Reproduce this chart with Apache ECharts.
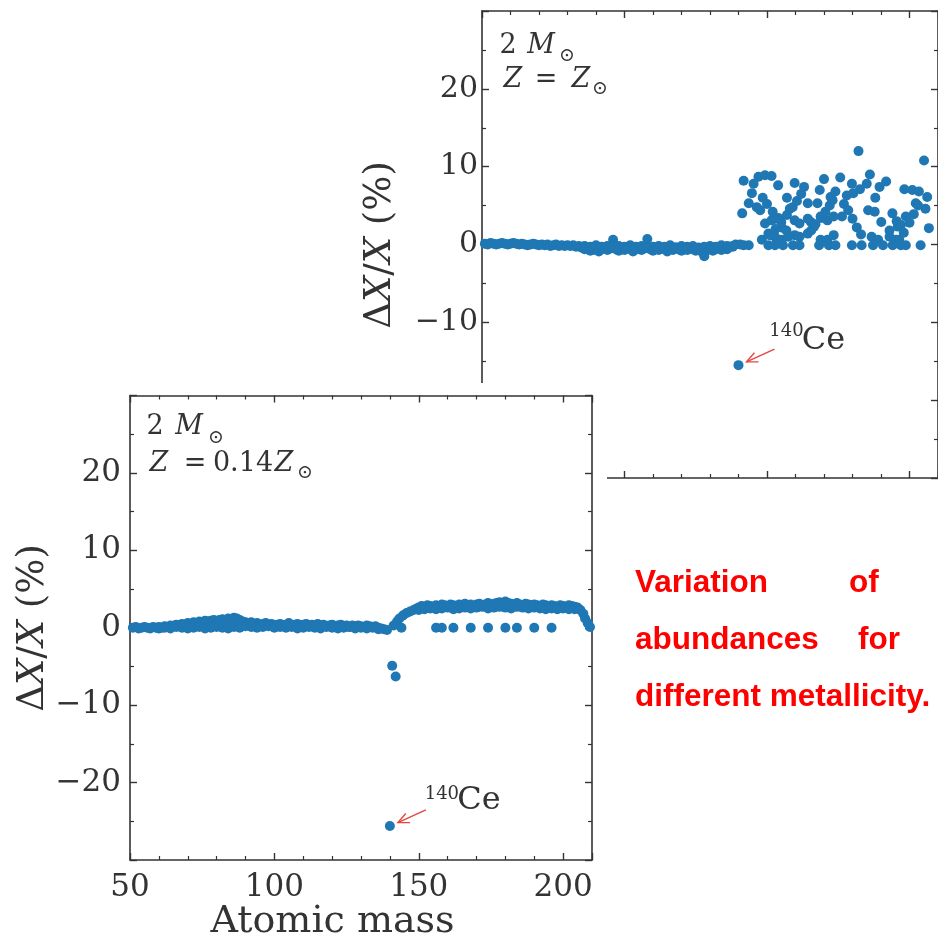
<!DOCTYPE html>
<html><head><meta charset="utf-8">
<script src="https://cdn.jsdelivr.net/npm/echarts@6/dist/echarts.min.js"></script>
<style>html,body{margin:0;padding:0;background:#fff}#c{width:938px;height:940px}</style>
</head><body><div id="c"></div>
<script>
// ---------- tick labels ----------
const xTickValues = [50, 100, 150, 200];
const xTickLabels = ['50', '100', '150', '200'];
const yTickValues = [-20, -10, 0, 10, 20];
const yTickLabels = ['\u221220', '\u221210', '0', '10', '20'];

// ---------- top panel (Z = Z_sun) ----------
const topBandMass = [51,52,53,54,55,56,57,58,59,60,61,62,63,64,65,66,67,68,69,70,71,72,73,74,75,76,77,78,79,80,81,82,83,84,85,86,87,88,89,90,91,92,93,94,95,96,97,98,99,100,101,102,103,104,105,106,107,108,109,110,111,112,113,114,115,116,117,118,119,120,121,122,123,124,125,126,127,128,129,130,131,132,133,134,135,136,137,138,139];
const topBandDelta = [0.1,0.0,0.2,0.1,0.0,0.1,0.2,0.1,0.0,0.1,
 0.2,0.1,0.0,0.1,0.0,-0.1,0.0,0.1,0.0,-0.1,
 0.0,-0.1,0.0,-0.2,-0.1,0.0,-0.2,-0.1,-0.2,-0.1,
 -0.2,-0.1,-0.3,-0.2,-0.4,-0.6,-0.5,-0.8,-0.7,-0.5,
 -0.9,-0.6,-0.4,-0.7,-0.5,0.6,-0.6,-0.8,-0.5,-0.7,
 -0.4,-0.6,-0.9,-0.5,-0.6,-0.7,-0.5,0.7,-0.6,-0.8,
 -0.4,-0.7,-0.5,-0.6,-0.9,-0.5,-0.7,-0.4,-0.6,-0.8,
 -0.5,-0.7,-0.6,-0.4,-0.8,-0.6,-0.9,-1.5,-0.7,-0.5,
 -0.8,-0.6,-0.4,-0.7,-0.5,-0.6,-0.3,-0.2,0.0];
const topBand2Mass = [86,88,90,92,94,96,98,100,102,104,106,108,110,112,114,116,118,120,122,124,126,128,130,132,134,136,138];
const topBand2Delta = [-0.2,-0.3,-0.1,-0.3,-0.2,-0.4,-0.2,-0.3,-0.1,-0.3,-0.2,-0.4,-0.3,-0.2,-0.3,-0.1,-0.4,-0.2,-0.3,-0.2,-0.4,-0.3,-0.2,-0.3,-0.1,-0.2,-0.3];
const topScatterMass = [
 141.8,145.3,147.0,149.3,151.6,153.9,159.7,170.0,175.7,179.8,186.1,191.8,198.2,201.0,203.3,205.1,206.2,182.1,
 143.6,144.7,146.4,147.6,149.3,151.6,152.8,155.1,156.8,158.0,159.7,161.4,164.3,164.3,165.4,167.7,166.5,168.8,171.2,172.3,
 174.0,173.4,176.3,178.0,180.3,182.6,185.5,187.8,190.1,193.0,195.9,198.7,202.2,205.6,206.8,
 148.2,150.5,152.8,155.1,157.4,159.7,161.4,164.3,168.8,171.2,173.4,186.7,189.0,193.0,195.3,196.4,
 141.8,143.6,150.5,152.8,155.6,159.1,161.4,168.3,171.7,174.0,179.8,183.2,187.2,190.7,194.1,197.0,198.7,203.9,
 141.3,140.6,
 151.0,153.0,155.0,157.0,159.0,160.5,162.0,
 148.5,150.0,152.0,154.0,
 165.5,167.0,169.0,170.5,172.0,173.0,
 177.0,178.5,180.0,181.5,183.0,
 194.0,195.5,197.0,198.0,200.0,201.5,203.0,
 157.0,163.0,168.5,185.0,188.0,189.5];
const topScatterDelta = [
 8.2,7.8,8.7,8.9,8.8,7.6,7.9,8.4,8.6,7.8,9.0,8.1,7.1,7.0,6.8,10.8,6.1,12.0,
 5.3,6.6,4.8,4.4,2.7,3.1,3.3,2.2,1.8,4.6,3.1,2.7,5.3,3.3,2.9,5.3,2.3,3.6,3.1,6.1,
 6.8,3.6,3.6,6.3,6.6,7.1,4.4,4.2,2.9,1.8,2.3,3.6,5.3,4.6,2.1,
 0.6,1.4,1.0,0.6,1.0,1.2,1.0,1.4,0.6,0.6,1.2,1.0,0.6,1.0,0.6,0.6,
 -0.1,-0.1,-0.1,-0.1,-0.1,-0.1,-0.1,-0.1,-0.1,-0.1,-0.1,-0.1,-0.1,-0.1,-0.1,-0.1,-0.1,-0.1,
 4.0,0.0,
 1.2,2.0,2.9,3.8,4.8,5.6,6.5,
 6.0,5.2,4.2,3.4,
 1.8,2.6,3.4,4.2,5.0,5.7,
 5.2,4.4,3.3,2.2,1.3,
 4.0,3.0,2.5,1.5,2.8,3.9,5.0,
 6.0,7.4,7.0,7.8,6.0,7.4];
const ceMass = 140;
const topCeDelta = -15.5;

// ---------- bottom panel (Z = 0.14 Z_sun) ----------
const botBandMass = [51,52,53,54,55,56,57,58,59,60,61,62,63,64,65,66,67,68,69,70,71,72,73,74,75,76,77,78,79,80,81,82,83,84,85,86,87,88,89,90,91,92,93,94,95,96,97,98,99,100,101,102,103,104,105,106,107,108,109,110,111,112,113,114,115,116,117,118,119,120,121,122,123,124,125,126,127,128,129,130,131,132,133,134,135,136,137,138,139];
const botBandDelta = [0.0,0.1,-0.1,0.0,0.1,0.0,-0.1,0.1,0.0,0.1,
 0.0,0.2,0.1,0.3,0.2,0.4,0.3,0.5,0.4,0.6,
 0.5,0.7,0.6,0.8,0.7,0.9,0.8,0.9,1.0,0.9,
 1.0,1.1,0.9,1.2,1.1,1.3,1.2,1.0,0.8,0.7,
 0.6,0.7,0.5,0.6,0.4,0.5,0.6,0.4,0.5,0.3,
 0.4,0.5,0.3,0.4,0.6,0.3,0.4,0.5,0.3,0.4,
 0.5,0.3,0.4,0.2,0.5,0.3,0.4,0.2,0.3,0.4,
 0.2,0.3,0.4,0.2,0.3,0.1,0.3,0.2,0.3,0.2,
 0.1,0.3,0.2,0.1,0.2,0.0,-0.1,-0.2,-0.3];
const botBand2Mass = [60,62,64,66,68,70,72,74,76,78,80,82,84,86,88,90,92,94,96,98,100,102,104,106,108,110,112,114,116,118,120,122,124,126,128,130,132,134,136];
const botBand2Delta = [-0.1,0.0,-0.1,0.1,0.0,-0.1,0.0,0.1,-0.1,0.0,0.1,0.0,-0.1,0.1,0.0,0.2,0.1,0.0,0.1,0.2,0.0,
 0.1,0.0,0.1,-0.1,0.0,0.1,0.0,-0.1,0.1,0.0,-0.1,0.0,0.1,-0.1,0.0,-0.1,0.0,-0.2];
const botRiseMass = [140.8,142.0,141.3,142.5,143.3,144.0,144.6,145.8,147.0,148.2,149.3];
const botRiseDelta = [-4.9,-6.3,0.3,0.8,1.2,0.0,1.6,1.9,2.1,2.3,2.5];
const botPlateauMass = [150,151,152,153,154,155,156,157,158,159,160,161,162,163,164,165,166,167,168,169,170,171,172,173,174,175,176,177,178,179,180,181,182,183,184,185,186,187,188,189,190,191,192,193,194,195,196,197,198,199,200,201,202,203,204];
const botPlateauDelta = [2.6,2.8,2.7,2.9,2.8,2.7,2.9,2.8,3.0,2.9,
 2.8,3.0,2.9,2.8,3.0,2.9,3.1,2.9,3.0,2.8,
 3.0,3.1,2.9,3.0,3.2,3.0,3.1,3.2,3.3,3.2,
 3.4,3.2,3.1,3.0,3.2,3.0,2.9,3.1,3.0,2.9,
 3.0,2.9,2.8,3.0,2.9,2.8,2.9,2.8,2.7,2.9,
 2.8,2.7,2.9,2.8,2.7];
const botPlateau2Mass = [150,152,154,156,158,160,162,164,166,168,170,172,174,176,178,180,182,184,186,188,190,192,194,196,198,200,202,204];
const botPlateau2Delta = [2.3,2.4,2.5,2.4,2.5,2.6,2.4,2.5,2.6,2.5,2.6,2.7,2.5,2.6,2.7,2.6,2.5,2.7,2.6,2.5,2.6,2.5,2.4,2.5,2.4,2.5,2.4,2.4];
const botEndMass = [205,206,207,207.6,208.5,209.3];
const botEndDelta = [2.6,2.3,1.8,1.2,0.6,0.1];
const botZeroMass = [156,158,162,168,174,180,184,190,196];
const botZeroDelta = [0,0,0,0,0,0,0,0,0];
const botCeDelta = -25.6;

// ---------- build ----------
function zip(a, b) { return a.map((v, i) => [v, b[i]]); }
const topData = [].concat(zip(topBandMass, topBandDelta), zip(topBand2Mass, topBand2Delta),
  zip(topScatterMass, topScatterDelta), [[ceMass, topCeDelta]]);
const botData = [].concat(zip(botBandMass, botBandDelta), zip(botBand2Mass, botBand2Delta),
  zip(botRiseMass, botRiseDelta), zip(botPlateauMass, botPlateauDelta), zip(botPlateau2Mass, botPlateau2Delta),
  zip(botEndMass, botEndDelta), zip(botZeroMass, botZeroDelta), [[ceMass, botCeDelta]]);

const AX = '#333';
const SERIF = '"DejaVu Serif", "Liberation Serif", serif';
function xAx(grid, pos, showLabel, zl) {
  return {
    type: 'value', gridIndex: grid, position: pos, min: 50, max: 210, interval: 50, zlevel: zl,
    axisLine: { show: true, onZero: false, lineStyle: { color: AX, width: 1.6 } },
    axisTick: { show: true, inside: true, length: 7, lineStyle: { color: AX, width: 1.4 } },
    minorTick: { show: true, splitNumber: 5, length: 4, lineStyle: { color: AX, width: 1.2 } },
    splitLine: { show: false }, minorSplitLine: { show: false },
    axisLabel: { show: showLabel, margin: 12, color: AX, fontFamily: SERIF, fontSize: 31,
      formatter: v => { const i = xTickValues.indexOf(v); return i >= 0 ? xTickLabels[i] : ''; } }
  };
}
function yAx(grid, pos, showLabel, zl, fs, margin) {
  return {
    type: 'value', gridIndex: grid, position: pos, min: -30, max: 30, interval: 10, zlevel: zl,
    axisLine: { show: true, onZero: false, lineStyle: { color: AX, width: 1.6 } },
    axisTick: { show: true, inside: true, length: 7, lineStyle: { color: AX, width: 1.4 } },
    minorTick: { show: true, splitNumber: 2, length: 4, lineStyle: { color: AX, width: 1.2 } },
    splitLine: { show: false }, minorSplitLine: { show: false },
    axisLabel: { show: showLabel, margin: margin, color: AX, fontFamily: SERIF, fontSize: fs,
      formatter: v => { const i = yTickValues.indexOf(v); return i >= 0 ? yTickLabels[i] : ''; } }
  };
}

const chart = echarts.init(document.getElementById('c'), null, { renderer: 'canvas' });
const option = {
  animation: false,
  backgroundColor: '#fff',
  grid: [
    { left: 482, top: 11, width: 464, height: 467, zlevel: 0, show: false },
    { left: 130, top: 395.5, width: 462, height: 464.5, zlevel: 2, show: false }
  ],
  xAxis: [xAx(0, 'bottom', false, 0), xAx(0, 'top', false, 0), xAx(1, 'bottom', true, 2), xAx(1, 'top', false, 2)],
  yAxis: [yAx(0, 'left', true, 0, 30, 4), yAx(0, 'right', false, 0, 30, 4), yAx(1, 'left', true, 2, 31, 9), yAx(1, 'right', false, 2, 31, 9)],
  series: [
    { type: 'scatter', xAxisIndex: 0, yAxisIndex: 0, zlevel: 0, symbolSize: 10, data: topData,
      itemStyle: { color: '#1f77b4', opacity: 1 } },
    { type: 'scatter', xAxisIndex: 2, yAxisIndex: 2, zlevel: 2, symbolSize: 10, data: botData,
      itemStyle: { color: '#1f77b4', opacity: 1 } }
  ]
};
chart.setOption(option);

function txt(x, y, s, font, zl, extra) {
  return Object.assign({
    type: 'text', zlevel: zl, z: 100, silent: true,
    style: { x: x, y: y, text: s, font: font, fill: '#333', textAlign: 'center', textVerticalAlign: 'middle', align: 'center', verticalAlign: 'middle' }
  }, extra || {});
}
function arrow(p, zl) {
  const tail = [p[0] + 36, p[1] - 16], tip = [p[0] + 8, p[1] - 3.3];
  let dx = tail[0] - tip[0], dy = tail[1] - tip[1]; const L = Math.hypot(dx, dy); dx /= L; dy /= L;
  const w1 = [tip[0] + dx * 11 - dy * 5, tip[1] + dy * 11 + dx * 5];
  const w2 = [tip[0] + dx * 11 + dy * 5, tip[1] + dy * 11 - dx * 5];
  const st = { stroke: '#e4473f', lineWidth: 1.4, fill: null };
  return [
    { type: 'polyline', zlevel: zl, z: 100, silent: true, shape: { points: [tail, tip] }, style: st },
    { type: 'polyline', zlevel: zl, z: 100, silent: true, shape: { points: [w1, tip, w2] }, style: st }
  ];
}
const pTop = chart.convertToPixel({ xAxisIndex: 0, yAxisIndex: 0 }, [ceMass, topCeDelta]);
const pBot = chart.convertToPixel({ xAxisIndex: 2, yAxisIndex: 2 }, [ceMass, botCeDelta]);
const F = '27px ' + SERIF, FI = 'italic 27px ' + SERIF, FS = '19px ' + SERIF;
const title = (x, y, zl) => ({
  type: 'text', zlevel: zl, z: 100, silent: true, x: x, y: y, rotation: Math.PI / 2,
  style: { x: 0, y: 0, text: '\u0394{i|X}/{i|X} (%)', fontSize: 37, fontFamily: SERIF, fill: '#333',
    textAlign: 'center', textVerticalAlign: 'middle', align: 'center', verticalAlign: 'middle',
    rich: { i: { fontSize: 37, fontFamily: SERIF, fontStyle: 'italic', fill: '#333' } } }
});
const RED = 'bold 31.5px "Liberation Sans", Arial, sans-serif';
const red = (x, y, s) => ({ type: 'text', zlevel: 0, z: 100, silent: true,
  style: { x: x, y: y, text: s, font: RED, fill: '#ff0000', textAlign: 'left', align: 'left', textVerticalAlign: 'middle', verticalAlign: 'middle' } });

const elements = [
  // top panel annotations
  txt(508, 46, '2', F, 0), txt(541, 46, 'M', FI, 0), txt(567, 56, '\u2299', FS, 0),
  txt(513, 80, 'Z', FI, 0), txt(546, 80, '=', F, 0), txt(581, 80, 'Z', FI, 0), txt(600, 89, '\u2299', FS, 0),
  title(380, 245, 0),
  txt(pTop[0] + 48, pTop[1] - 34, '140', '18px ' + SERIF, 0),
  txt(pTop[0] + 85, pTop[1] - 24, 'Ce', '32px ' + SERIF, 0),
  ...arrow(pTop, 0),
  // white cover of the lower-left image
  { type: 'rect', zlevel: 1, z: 0, silent: true, shape: { x: 0, y: 383, width: 607, height: 557 }, style: { fill: '#fff' } },
  // bottom panel annotations
  txt(155, 427, '2', F, 2), txt(189, 427, 'M', FI, 2), txt(216, 438, '\u2299', FS, 2),
  txt(159, 464, 'Z', FI, 2), txt(195, 464, '=', F, 2), txt(243, 464, '0.14', F, 2), txt(284, 464, 'Z', FI, 2), txt(305, 473, '\u2299', FS, 2),
  title(33, 628, 2),
  txt(332.5, 922, 'Atomic mass', '38px ' + SERIF, 2),
  txt(pBot[0] + 52, pBot[1] - 32, '140', '18px ' + SERIF, 2),
  txt(pBot[0] + 89, pBot[1] - 25, 'Ce', '32px ' + SERIF, 2),
  ...arrow(pBot, 2),
  // red caption
  red(635, 583, 'Variation'), red(849, 583, 'of'),
  red(635, 640, 'abundances'), red(858, 640, 'for'),
  red(635, 697, 'different metallicity.')
];
chart.setOption({ graphic: { elements: elements } });
</script>
</body></html>
